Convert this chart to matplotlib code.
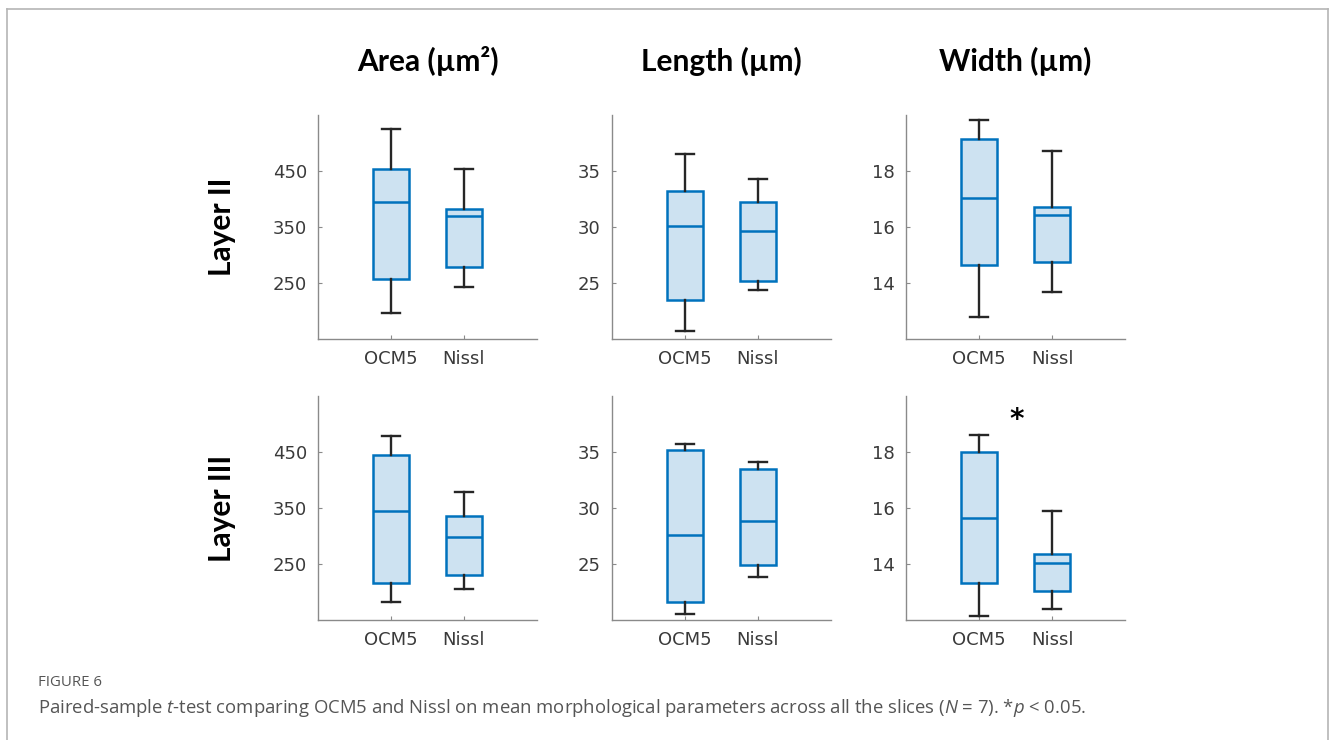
import matplotlib
matplotlib.use('Agg')
import matplotlib.pyplot as plt
from matplotlib.lines import Line2D

plt.rcParams['mathtext.fontset'] = 'custom'
plt.rcParams['mathtext.rm'] = 'Open Sans'
plt.rcParams['mathtext.it'] = 'Open Sans:italic'

groups = ['OCM5', 'Nissl']
titles = ['Area (\u00b5m\u00b2)', 'Length (\u00b5m)', 'Width (\u00b5m)']
rows = ['Layer II', 'Layer III']
ylims = [(150, 550), (20, 40), (12, 20)]
yticks = [[250, 350, 450], [25, 30, 35], [14, 16, 18]]

# box stats: [whislo, q1, med, q3, whishi] for OCM5, Nissl
area_l2 = [[197, 257, 395, 454, 525], [242, 279, 370, 382, 453]]
length_l2 = [[20.7, 23.5, 30.1, 33.2, 36.5], [24.4, 25.2, 29.6, 32.2, 34.3]]
width_l2 = [[12.77, 14.66, 17.02, 19.13, 19.82], [13.67, 14.76, 16.42, 16.72, 18.7]]
area_l3 = [[183, 216, 344, 444, 479], [205, 231, 298, 335, 378]]
length_l3 = [[20.5, 21.6, 27.6, 35.2, 35.7], [23.8, 24.9, 28.8, 33.45, 34.1]]
width_l3 = [[12.15, 13.33, 15.65, 18.01, 18.62], [12.41, 13.03, 14.04, 14.35, 15.9]]
stats = [[area_l2, length_l2, width_l2], [area_l3, length_l3, width_l3]]
star = (1.52, 19.15)  # row 2, width panel

blue = '#0072BD'
fill = '#CDE2F1'

fig = plt.figure(figsize=(13.3, 7.4), dpi=100)

lefts = [318, 612, 906]
bottoms = [339, 620]
for r in range(2):
    for c in range(3):
        ax = fig.add_axes([lefts[c] / 1330, 1 - bottoms[r] / 740, 219 / 1330, 224 / 740])
        bxs = []
        for g, s in zip(groups, stats[r][c]):
            bxs.append({'label': g, 'whislo': s[0], 'q1': s[1], 'med': s[2],
                        'q3': s[3], 'whishi': s[4], 'fliers': []})
        ax.bxp(bxs, positions=[1, 2], widths=0.5, patch_artist=True, showfliers=False,
               boxprops=dict(facecolor=fill, edgecolor=blue, linewidth=1.8),
               medianprops=dict(color=blue, linewidth=1.8),
               whiskerprops=dict(color='#262626', linewidth=1.7),
               capprops=dict(color='#262626', linewidth=1.7))
        ax.set_xlim(0, 3)
        ax.set_ylim(*ylims[c])
        ax.set_yticks(yticks[c])
        ax.set_xticks([1, 2])
        ax.set_xticklabels(groups)
        for sp in ['top', 'right']:
            ax.spines[sp].set_visible(False)
        for sp in ['left', 'bottom']:
            ax.spines[sp].set_color('#8a8a8a')
            ax.spines[sp].set_linewidth(1.0)
        ax.tick_params(direction='in', length=3, color='#8a8a8a', labelcolor='#3a3a3a',
                       labelsize=13, pad=8)
        for lab in ax.get_xticklabels() + ax.get_yticklabels():
            lab.set_family('DejaVu Sans')
        if r == 0:
            ax.set_title(titles[c], fontsize=21.5, fontweight='bold', family='Lato', pad=32)
        if c == 0:
            ax.text(-0.44, 0.5, rows[r], transform=ax.transAxes, rotation=90, ha='center',
                    va='center', fontsize=21.5, fontweight='bold', family='Lato')
        if r == 1 and c == 2:
            ax.text(star[0], star[1], '*', ha='center', va='center', fontsize=20,
                    fontweight='bold', family='DejaVu Sans')

# frame around the figure
fig.add_artist(Line2D([7 / 1330, 7 / 1330], [0, 1 - 9 / 740], transform=fig.transFigure,
                      color='#b5b5b5', linewidth=1.2))
fig.add_artist(Line2D([7 / 1330, 1328 / 1330], [1 - 9 / 740, 1 - 9 / 740],
                      transform=fig.transFigure, color='#b5b5b5', linewidth=1.2))
fig.add_artist(Line2D([1328 / 1330, 1328 / 1330], [0, 1 - 9 / 740], transform=fig.transFigure,
                      color='#b5b5b5', linewidth=1.2))

fig.text(38 / 1330, 1 - 683 / 740, 'FIGURE 6', fontsize=10.8, color='#555555',
         family='Open Sans', va='center')
fig.text(38 / 1330, 1 - 708 / 740,
         'Paired-sample $t$-test comparing OCM5 and Nissl on mean morphological parameters '
         'across all the slices ($N$ = 7). *$p$ < 0.05.',
         fontsize=13.3, color='#555555', family='Open Sans', va='center')

fig.savefig('out.png', dpi=100)
